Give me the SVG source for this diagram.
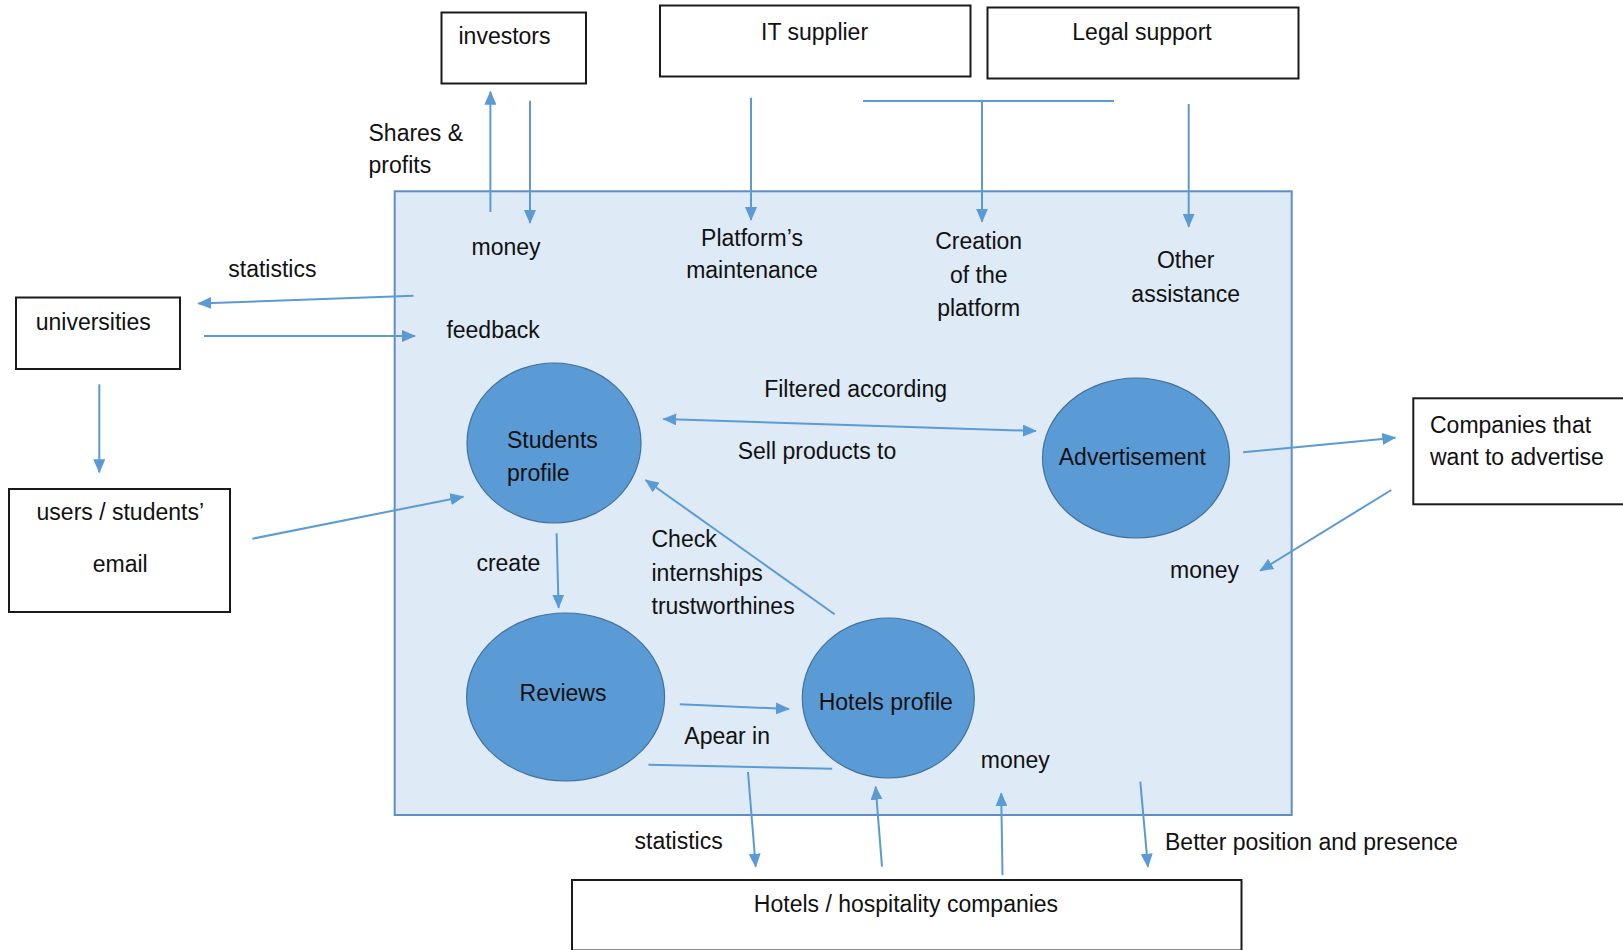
<svg xmlns="http://www.w3.org/2000/svg" width="1623" height="950" viewBox="0 0 1623 950">
<defs>
<style>
text{font-family:"Liberation Sans",Arial,sans-serif;font-size:23px;fill:#111;}
.box{fill:#fff;stroke:#1a1a1a;stroke-width:2;}
.node{fill:#5b9bd5;stroke:#41719c;stroke-width:1.2;}
.c{text-anchor:middle;}
.ln{stroke:#5b9bd5;stroke-width:2;fill:none;}
.ar{marker-end:url(#ah);}
</style>
<marker id="ah" viewBox="0 0 14 12" refX="13" refY="6" markerWidth="14" markerHeight="12" markerUnits="userSpaceOnUse" orient="auto-start-reverse">
<path d="M0,0 L14,6 L0,12 z" fill="#5b9bd5"/>
</marker>
</defs>
<rect width="1623" height="950" fill="#fff"/>

<g id="system">
<rect x="394.7" y="191.3" width="897" height="623.7" fill="#deeaf6" stroke="#5f8dc4" stroke-width="2"/>
</g>

<g id="investors"><rect class="box" x="441.5" y="12.5" width="144.5" height="71"/><text x="458.5" y="44.3">investors</text></g>
<g id="it-supplier"><rect class="box" x="660" y="5.5" width="310.5" height="71"/><text class="c" x="814.6" y="40">IT supplier</text></g>
<g id="legal-support"><rect class="box" x="987.5" y="7.5" width="311" height="71"/><text class="c" x="1142" y="40">Legal support</text></g>
<g id="universities"><rect class="box" x="16" y="297.5" width="164" height="71.5"/><text x="35.7" y="330">universities</text></g>
<g id="users"><rect class="box" x="9" y="489" width="221" height="123"/><text class="c" x="120.3" y="520">users / students’</text><text class="c" x="120.2" y="572.3">email</text></g>
<g id="companies"><rect class="box" x="1413.3" y="398.3" width="230" height="106"/><text x="1430" y="432.5">Companies that</text><text x="1430" y="464.5">want to advertise</text></g>
<g id="hotels-companies"><rect class="box" x="572" y="880" width="669.5" height="70.5"/><text class="c" x="906" y="911.7">Hotels / hospitality companies</text></g>

<g id="students-profile"><ellipse class="node" cx="554" cy="443" rx="87" ry="80"/><text x="507" y="447.7">Students</text><text x="507" y="480.5">profile</text></g>
<g id="advertisement"><ellipse class="node" cx="1136" cy="458" rx="93.5" ry="80"/><text class="c" x="1132.3" y="465">Advertisement</text></g>
<g id="reviews"><ellipse class="node" cx="565.6" cy="697" rx="99" ry="84"/><text class="c" x="563" y="701">Reviews</text></g>
<g id="hotels-profile"><ellipse class="node" cx="888.3" cy="698" rx="86" ry="80"/><text class="c" x="885.8" y="710">Hotels profile</text></g>

<g id="connectors">
<line class="ln ar" x1="490.4" y1="212" x2="490.4" y2="91.7"/>
<line class="ln ar" x1="530" y1="100.7" x2="530" y2="223"/>
<line class="ln ar" x1="751" y1="97.7" x2="751" y2="220"/>
<line class="ln" x1="863" y1="101" x2="1114" y2="101"/>
<line class="ln ar" x1="982" y1="101" x2="982" y2="221.7"/>
<line class="ln ar" x1="1188.7" y1="104" x2="1188.7" y2="226.7"/>
<line class="ln ar" x1="413.5" y1="295.7" x2="198.3" y2="303.5"/>
<line class="ln ar" x1="204" y1="336" x2="415" y2="336"/>
<line class="ln ar" x1="99.3" y1="384.3" x2="99.3" y2="472.3"/>
<line class="ln ar" x1="252.3" y1="538.7" x2="463.3" y2="496.7"/>
<line class="ln ar" x1="663.4" y1="419" x2="1035.9" y2="431" marker-start="url(#ah)"/>
<line class="ln ar" x1="556.6" y1="533.3" x2="558.6" y2="607.7"/>
<line class="ln ar" x1="834.6" y1="614.3" x2="645.6" y2="480"/>
<line class="ln ar" x1="1243.1" y1="452.3" x2="1395.3" y2="437.7"/>
<line class="ln ar" x1="1391.3" y1="490" x2="1260.2" y2="570.7"/>
<line class="ln ar" x1="679.8" y1="704.3" x2="788.9" y2="709"/>
<line class="ln" x1="648.5" y1="764.7" x2="832.2" y2="768.7"/>
<line class="ln ar" x1="748" y1="772" x2="755.7" y2="866.7"/>
<line class="ln ar" x1="882" y1="866.7" x2="875.6" y2="786.7"/>
<line class="ln ar" x1="1002.5" y1="875" x2="1001.2" y2="793.3"/>
<line class="ln ar" x1="1140.3" y1="781.7" x2="1147.9" y2="866.7"/>
</g>

<g id="labels">
<text x="368.5" y="141">Shares &amp;</text>
<text x="368.5" y="173">profits</text>
<text class="c" x="506" y="255">money</text>
<text class="c" x="752" y="246">Platform’s</text>
<text class="c" x="752" y="278.3">maintenance</text>
<text class="c" x="978.7" y="249.3">Creation</text>
<text class="c" x="978.7" y="282.5">of the</text>
<text class="c" x="978.7" y="316">platform</text>
<text class="c" x="1185.7" y="268.3">Other</text>
<text class="c" x="1185.7" y="301.7">assistance</text>
<text x="228.3" y="276.7">statistics</text>
<text x="446.4" y="338">feedback</text>
<text x="764.2" y="396.7">Filtered according</text>
<text x="737.7" y="459.3">Sell products to</text>
<text x="476.4" y="570.7">create</text>
<text x="651.5" y="546.7">Check</text>
<text x="651.5" y="581">internships</text>
<text x="651.5" y="614.3">trustworthines</text>
<text x="1170" y="578.3">money</text>
<text x="684.3" y="744.3">Apear in</text>
<text x="980.8" y="768.3">money</text>
<text x="634.5" y="849.3">statistics</text>
<text x="1165" y="850">Better position and presence</text>
</g>
</svg>
